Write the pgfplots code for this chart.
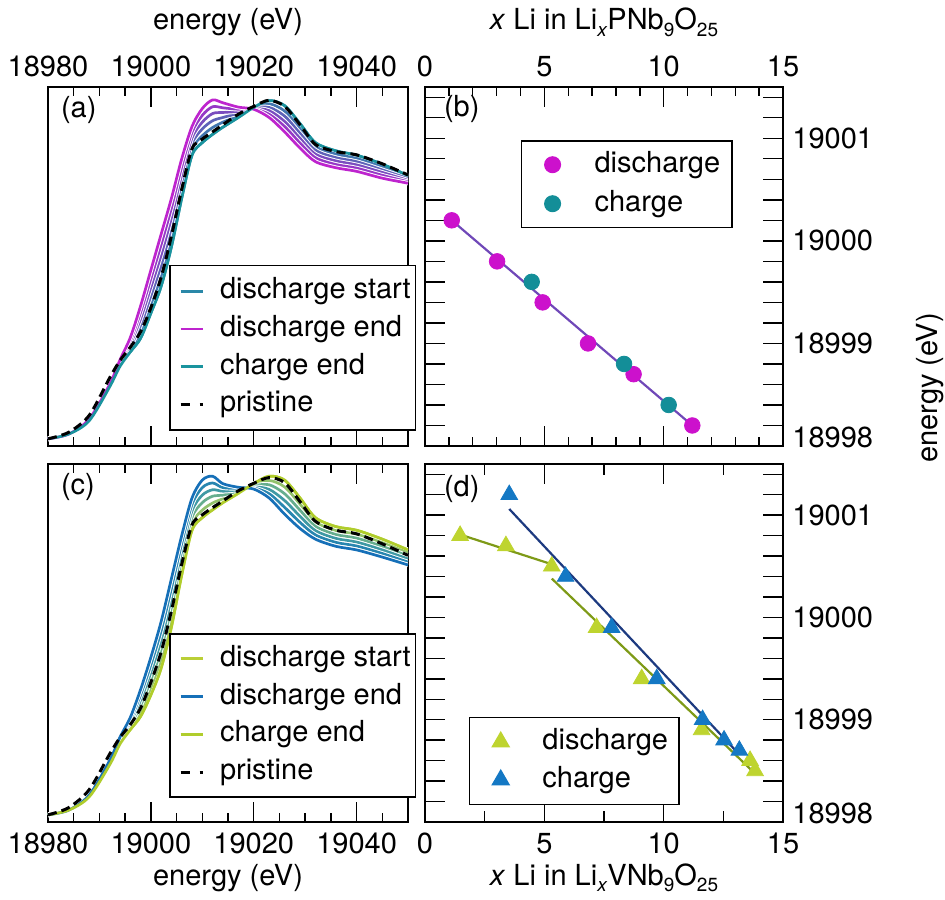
\documentclass[border=0pt]{standalone}
\usepackage{fontspec}
\setmainfont{TeX Gyre Heros}
\usepackage{pgfplots}
\usepackage{pgfplotstable}
\pgfplotsset{compat=1.18}
\newcommand\fsz{\fontsize{14.5}{17}\selectfont}
\newcommand\sub[1]{\raisebox{-3.4pt}{\fontsize{9.5}{10}\selectfont #1}}
\definecolor{cT}{HTML}{2A88A8}
\definecolor{cI4}{HTML}{4276B0}
\definecolor{cI3}{HTML}{5E62B8}
\definecolor{cI2}{HTML}{7A4DBF}
\definecolor{cI1}{HTML}{9638C6}
\definecolor{cM}{HTML}{BE24CE}
\definecolor{cCE}{HTML}{1A949E}
\definecolor{cG}{HTML}{BACF36}
\definecolor{cJ4}{HTML}{93C26C}
\definecolor{cJ3}{HTML}{66AE8E}
\definecolor{cJ2}{HTML}{3F99A4}
\definecolor{cJ1}{HTML}{2886B0}
\definecolor{cB}{HTML}{1670B8}
\definecolor{cGE}{HTML}{B0CD2C}
\definecolor{cDis}{HTML}{CC11CC}
\definecolor{cCh}{HTML}{138E98}
\definecolor{cLine}{HTML}{7048B8}
\definecolor{cDg}{HTML}{BED42F}
\definecolor{cCb}{HTML}{1478C4}
\definecolor{cLg}{HTML}{7E9A17}
\definecolor{cLb}{HTML}{1D3A80}

\pgfplotstableread{
E T I4 I3 I2 I1 M P
18980 0.020 0.020 0.020 0.020 0.020 0.020 0.020
18984 0.033 0.033 0.033 0.033 0.033 0.033 0.038
18988 0.070 0.071 0.072 0.073 0.074 0.075 0.085
18992 0.165 0.166 0.168 0.169 0.171 0.172 0.190
18994 0.222 0.225 0.228 0.232 0.236 0.240 0.238
18996 0.262 0.268 0.276 0.284 0.293 0.302 0.275
18998 0.300 0.318 0.336 0.354 0.372 0.390 0.318
19000 0.370 0.394 0.418 0.442 0.466 0.490 0.385
19002 0.445 0.474 0.503 0.532 0.561 0.590 0.470
19004 0.555 0.582 0.609 0.636 0.663 0.690 0.585
19006 0.690 0.712 0.734 0.756 0.778 0.800 0.715
19008 0.810 0.826 0.842 0.858 0.874 0.890 0.828
19010 0.845 0.864 0.883 0.902 0.921 0.940 0.855
19012 0.868 0.887 0.906 0.926 0.945 0.964 0.875
19014 0.888 0.902 0.915 0.929 0.942 0.956 0.895
19017 0.915 0.921 0.927 0.932 0.938 0.944 0.924
19020 0.943 0.942 0.941 0.940 0.939 0.938 0.946
19023 0.962 0.953 0.943 0.934 0.924 0.915 0.963
19026 0.948 0.933 0.919 0.904 0.890 0.875 0.946
19029 0.898 0.884 0.871 0.857 0.844 0.830 0.895
19032 0.845 0.834 0.824 0.813 0.803 0.792 0.840
19036 0.822 0.813 0.803 0.794 0.784 0.775 0.820
19040 0.810 0.801 0.792 0.783 0.774 0.765 0.811
19045 0.785 0.777 0.769 0.762 0.754 0.746 0.786
19050 0.753 0.749 0.745 0.740 0.736 0.732 0.755
}\tabA

\pgfplotstableread{
E G J4 J3 J2 J1 B P
18980 0.020 0.020 0.020 0.020 0.020 0.020 0.020
18984 0.033 0.033 0.033 0.033 0.033 0.033 0.040
18988 0.070 0.071 0.072 0.073 0.074 0.075 0.090
18992 0.160 0.162 0.165 0.167 0.170 0.172 0.190
18994 0.218 0.221 0.225 0.229 0.233 0.237 0.236
18996 0.258 0.264 0.271 0.278 0.285 0.292 0.272
18998 0.295 0.310 0.325 0.340 0.355 0.370 0.318
19000 0.355 0.376 0.397 0.418 0.439 0.460 0.390
19002 0.430 0.456 0.482 0.508 0.534 0.560 0.475
19004 0.545 0.572 0.599 0.626 0.653 0.680 0.590
19006 0.690 0.712 0.734 0.756 0.778 0.800 0.720
19008 0.815 0.833 0.851 0.869 0.887 0.905 0.830
19010 0.850 0.871 0.892 0.913 0.934 0.955 0.858
19012 0.872 0.891 0.910 0.928 0.947 0.966 0.878
19014 0.892 0.903 0.913 0.924 0.934 0.945 0.897
19017 0.918 0.921 0.925 0.928 0.932 0.935 0.925
19020 0.945 0.942 0.939 0.936 0.933 0.930 0.946
19023 0.966 0.954 0.942 0.929 0.917 0.905 0.962
19026 0.955 0.936 0.917 0.898 0.879 0.860 0.948
19029 0.905 0.888 0.871 0.854 0.837 0.820 0.895
19032 0.850 0.838 0.826 0.814 0.802 0.790 0.840
19036 0.825 0.814 0.803 0.792 0.781 0.770 0.815
19040 0.815 0.804 0.793 0.782 0.771 0.760 0.805
19045 0.790 0.780 0.770 0.760 0.750 0.740 0.777
19050 0.760 0.752 0.743 0.735 0.726 0.718 0.745
}\tabC

\pgfplotsset{
  panel/.style={scale only axis, anchor=south west,
    axis line style={line width=0.7pt}, tick style={black, line width=0.7pt},
    tick align=inside, major tick length=10pt, minor tick length=4.5pt,
    scaled ticks=false,
    /pgf/number format/1000 sep={}, /pgf/number format/assume math mode=true,
    tick label style={font=\fsz}, label style={font=\fsz},
    legend cell align=left},
  halo/.style={white, line width=2.3pt, smooth, forget plot},
  crv/.style={line width=1.35pt, smooth},
  pris/.style={black, line width=1.5pt, smooth, dash pattern=on 4.5pt off 2.5pt,
    legend image code/.code={\path[draw=none] (0pt,0pt) -- (22.5pt,0pt); \draw[##1, dash pattern=on 4.5pt off 5pt] (2.85pt,0pt) -- (13.85pt,0pt);}},
  linelegend/.style={
    legend style={anchor=north west, draw=black, line width=0.7pt, fill=white, font=\fsz,
      inner xsep=2.5pt, inner ysep=6pt, row sep=5.35pt, column sep=0pt,
      nodes={inner sep=0pt, text height=10.5pt, text depth=3pt}},
    legend image code/.code={\path[draw=none] (0pt,0pt) -- (22.5pt,0pt); \draw[##1] (2.85pt,0pt) -- (13.85pt,0pt);}},
  rlabels/.style={scale only axis, anchor=south west, xmin=0, xmax=1, ymin=18998, ymax=19001.5,
    axis x line=none, axis y line*=right, y axis line style={draw=none},
    scaled ticks=false,
    ytick={18999,19000,19001}, extra y ticks={18998},
    extra y tick style={yticklabel style={yshift=4.5pt}},
    major tick length=0pt, tick style={draw=none},
    yticklabel style={font=\fsz, anchor=west, xshift=1.2pt},
    /pgf/number format/1000 sep={}, /pgf/number format/assume math mode=true},
}

\begin{document}
\begin{tikzpicture}
\useasboundingbox (0,0) rectangle (472.5pt,449.5pt);

% ---------------- (a)
\begin{axis}[panel, linelegend, at={(24pt,226.5pt)}, width=180pt, height=179.5pt,
  xmin=18980, xmax=19050, ymin=0, ymax=1,
  xtick={18980,19000,19020,19040},
  minor xtick={18985,18990,18995,19005,19010,19015,19025,19030,19035,19045},
  ytick=\empty, xtick pos=both, xticklabel pos=upper,
  xticklabel style={anchor=base, yshift=5pt},
  xlabel={energy (eV)}, xlabel style={at={(axis description cs:0.5,1)}, anchor=base, yshift=28.5pt},
  legend style={at={(axis description cs:0.337,0.504)}}]
\addplot[halo] table[x=E,y=T]{\tabA};
\addplot[crv, cT] table[x=E,y=T]{\tabA}; \addlegendentry{discharge start}
\addplot[halo] table[x=E,y=I4]{\tabA};
\addplot[crv, cI4, forget plot] table[x=E,y=I4]{\tabA};
\addplot[halo] table[x=E,y=I3]{\tabA};
\addplot[crv, cI3, forget plot] table[x=E,y=I3]{\tabA};
\addplot[halo] table[x=E,y=I2]{\tabA};
\addplot[crv, cI2, forget plot] table[x=E,y=I2]{\tabA};
\addplot[halo] table[x=E,y=I1]{\tabA};
\addplot[crv, cI1, forget plot] table[x=E,y=I1]{\tabA};
\addplot[halo] table[x=E,y=M]{\tabA};
\addplot[crv, cM] table[x=E,y=M]{\tabA}; \addlegendentry{discharge end}
\addplot[crv, cCE] table[x=E,y=T]{\tabA}; \addlegendentry{charge end}
\addplot[pris] table[x=E,y=P]{\tabA}; \addlegendentry{pristine}
\node[anchor=base west, font=\fsz, xshift=3pt, yshift=-15.5pt] at (rel axis cs:0,1) {(a)};
\end{axis}

% ---------------- (b)
\begin{axis}[panel, at={(212.5pt,226.5pt)}, width=179pt, height=179.5pt,
  xmin=0, xmax=15, ymin=18998, ymax=19001.5,
  xtick={0,5,10,15}, minor xtick={1,2,3,4,6,7,8,9,11,12,13,14},
  xtick pos=both, xticklabel pos=upper,
  xticklabel style={anchor=base, yshift=5pt},
  ytick={18998.2,18998.4,18998.6,18998.8,18999.0,18999.2,18999.4,18999.6,18999.8,19000.0,19000.2,19000.4,19000.6,19000.8,19001.0,19001.2,19001.4},
  yticklabel=\empty, ytick pos=both,
  xlabel={\textit{x} Li in Li\sub{\textit{x}}PNb\sub{9}O\sub{25}},
  xlabel style={at={(axis description cs:0.5,1)}, anchor=base, yshift=28.5pt},
  legend style={at={(axis description cs:0.267,0.852)}, anchor=north west, draw=black, line width=0.7pt,
    fill=white, font=\fsz, inner xsep=6pt, inner ysep=5.2pt, row sep=6pt, column sep=0pt,
    nodes={inner sep=0pt, text height=10.5pt, text depth=3pt}},
  legend image code/.code={\path[draw=none] (0pt,0pt) -- (30.65pt,0pt); \path[#1, draw=none] plot[only marks] coordinates {(9.65pt,0pt)};}]
\addplot[only marks, mark=*, mark size=3.9pt, mark options={draw=cDis, fill=cDis}] coordinates {
 (1.12,19000.2) (3.02,18999.8) (4.93,18999.4) (6.83,18999.0) (8.74,18998.7) (11.2,18998.2)};
\addlegendentry{discharge}
\addplot[only marks, mark=*, mark size=3.9pt, mark options={draw=cCh, fill=cCh}] coordinates {
 (4.47,18999.6) (8.34,18998.8) (10.21,18998.4)};
\addlegendentry{charge}
\addplot[cLine, line width=1.1pt, forget plot] coordinates {(1.12,19000.2) (11.2,18998.2)};
\node[anchor=base west, font=\fsz, xshift=6pt, yshift=-15pt] at (rel axis cs:0,1) {(b)};
\end{axis}
\begin{axis}[rlabels, at={(212.5pt,226.5pt)}, width=179pt, height=179.5pt]
\end{axis}

% ---------------- (c)
\begin{axis}[panel, linelegend, at={(24pt,38.5pt)}, width=180pt, height=179pt,
  xmin=18980, xmax=19050, ymin=0, ymax=1,
  xtick={18980,19000,19020,19040},
  minor xtick={18985,18990,18995,19005,19010,19015,19025,19030,19035,19045},
  ytick=\empty, xtick pos=both,
  xticklabel style={anchor=base, yshift=-15.5pt},
  xlabel={energy (eV)}, xlabel style={at={(axis description cs:0.5,0)}, anchor=base, yshift=-31.5pt},
  legend style={at={(axis description cs:0.337,0.527)}, inner ysep=5.6pt, row sep=5.4pt}]
\addplot[halo] table[x=E,y=G]{\tabC};
\addplot[crv, cG] table[x=E,y=G]{\tabC}; \addlegendentry{discharge start}
\addplot[halo] table[x=E,y=J4]{\tabC};
\addplot[crv, cJ4, forget plot] table[x=E,y=J4]{\tabC};
\addplot[halo] table[x=E,y=J3]{\tabC};
\addplot[crv, cJ3, forget plot] table[x=E,y=J3]{\tabC};
\addplot[halo] table[x=E,y=J2]{\tabC};
\addplot[crv, cJ2, forget plot] table[x=E,y=J2]{\tabC};
\addplot[halo] table[x=E,y=J1]{\tabC};
\addplot[crv, cJ1, forget plot] table[x=E,y=J1]{\tabC};
\addplot[halo] table[x=E,y=B]{\tabC};
\addplot[crv, cB] table[x=E,y=B]{\tabC}; \addlegendentry{discharge end}
\addplot[crv, cGE] table[x=E,y=G]{\tabC}; \addlegendentry{charge end}
\addplot[pris] table[x=E,y=P]{\tabC}; \addlegendentry{pristine}
\node[anchor=base west, font=\fsz, xshift=3pt, yshift=-15pt] at (rel axis cs:0,1) {(c)};
\end{axis}

% ---------------- (d)
\begin{axis}[panel, at={(212.5pt,38.5pt)}, width=179pt, height=179pt,
  xmin=0, xmax=15, ymin=18998, ymax=19001.5,
  xtick={0,5,10,15}, minor xtick={2.5,7.5,12.5}, minor tick length=5.5pt,
  xtick pos=both,
  xticklabel style={anchor=base, yshift=-15.5pt},
  ytick={18998.2,18998.4,18998.6,18998.8,18999.0,18999.2,18999.4,18999.6,18999.8,19000.0,19000.2,19000.4,19000.6,19000.8,19001.0,19001.2,19001.4},
  yticklabel=\empty, ytick pos=both,
  xlabel={\textit{x} Li in Li\sub{\textit{x}}VNb\sub{9}O\sub{25}},
  xlabel style={at={(axis description cs:0.5,0)}, anchor=base, yshift=-31.5pt},
  legend style={at={(axis description cs:0.123,0.294)}, anchor=north west, draw=black, line width=0.7pt,
    fill=white, font=\fsz, inner xsep=5.4pt, inner ysep=5.5pt, row sep=5.5pt, column sep=0pt,
    nodes={inner sep=0pt, text height=10.5pt, text depth=3pt}},
  legend image code/.code={\path[draw=none] (0pt,0pt) -- (30.95pt,0pt); \path[#1, draw=none] plot[only marks] coordinates {(10.1pt,0pt)};}]
\addplot[only marks, mark=triangle*, mark size=4.8pt, mark options={draw=cDg, fill=cDg}] coordinates {
 (1.47,19000.8) (3.39,19000.7) (5.31,19000.5) (7.19,18999.9) (9.08,18999.4) (11.59,18998.9) (13.62,18998.6) (13.83,18998.5)};
\addlegendentry{discharge}
\addplot[only marks, mark=triangle*, mark size=4.8pt, mark options={draw=cCb, fill=cCb}] coordinates {
 (3.53,19001.2) (5.89,19000.4) (7.82,18999.9) (9.71,18999.4) (11.63,18999.0) (12.53,18998.8) (13.17,18998.7)};
\addlegendentry{charge}
\addplot[cLg, line width=1.1pt, forget plot] coordinates {(1.47,19000.81) (5.31,19000.52)};
\addplot[cLg, line width=1.1pt, forget plot] coordinates {(5.31,19000.38) (13.80,18998.48)};
\addplot[cLb, line width=1.1pt, forget plot] coordinates {(3.53,19001.06) (13.17,18998.66)};
\node[anchor=base west, font=\fsz, xshift=6pt, yshift=-16pt] at (rel axis cs:0,1) {(d)};
\end{axis}
\begin{axis}[rlabels, at={(212.5pt,38.5pt)}, width=179pt, height=179pt]
\end{axis}

\node[rotate=90, anchor=base, font=\fsz] at (468.8pt,255.5pt) {energy (eV)};
\end{tikzpicture}
\end{document}
